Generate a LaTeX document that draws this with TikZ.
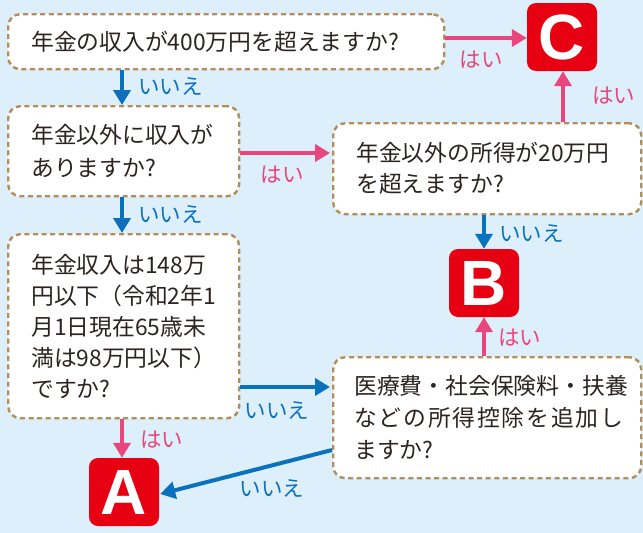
\documentclass[tikz,border=0pt]{standalone}
\usepackage{fontspec}
\setmainfont{Noto Sans CJK JP}
\newfontfamily\letterfont{Liberation Sans}[BoldFont={Liberation Sans Bold}]
\usetikzlibrary{arrows.meta,calc}
\definecolor{bgblue}{HTML}{DDEFFA}
\definecolor{boxbrown}{HTML}{B38E5A}
\definecolor{redbox}{HTML}{E60012}
\definecolor{pinkc}{HTML}{E8467C}
\definecolor{bluec}{HTML}{0A72BD}
\definecolor{textc}{HTML}{2B2421}
\tikzset{
  qbox/.style={draw=boxbrown, line width=2.4pt, dash pattern=on 5pt off 3.6pt,
    rounded corners=12pt, fill=white, inner ysep=0pt, inner xsep=23pt,
    anchor=north west, align=left, text=textc},
  qfont/.style={font=\fontsize{22.8}{#1}\selectfont},
  letterbox/.style={fill=redbox, rounded corners=9pt, minimum width=70pt,
    minimum height=68pt, inner sep=0pt, text=white,
    font=\letterfont\bfseries\fontsize{64}{64}\selectfont},
  yesarrow/.style={draw=pinkc, line width=4pt, -{Triangle[width=17pt,length=15pt]}},
  noarrow/.style={draw=bluec, line width=4pt, -{Triangle[width=17pt,length=15pt]}},
  yeslabel/.style={text=pinkc, font=\fontsize{21.5}{21.5}\selectfont, inner sep=0pt},
  nolabel/.style={text=bluec, font=\fontsize{21.5}{21.5}\selectfont, inner sep=0pt},
}
\begin{document}
\begin{tikzpicture}[x=1pt,y=-1pt]
\useasboundingbox[fill=bgblue] (0,0) rectangle (643,533);

% question boxes
\node[qbox, qfont=33, minimum width=436pt, minimum height=55pt, text width=390pt]
  (q1) at (7,13) {年金の収入が400万円を超えますか?};
\node[qbox, qfont=33, minimum width=231pt, minimum height=90pt, text width=185pt]
  (q2) at (7,105) {年金以外に収入が\\ありますか?};
\node[qbox, qfont=31, minimum width=308pt, minimum height=91pt, text width=262pt, inner xsep=21pt]
  (q3) at (332,122) {年金以外の所得が20万円\\を超えますか?};
\node[qbox, qfont=31, minimum width=231pt, minimum height=184pt, text width=185pt]
  (q5) at (7,233) {年金収入は148万\\円以下（令和2年1\\月1日現在65歳未\\満は98万円以下）\\ですか?};
\node[qbox, qfont=32, minimum width=308pt, minimum height=121pt, text width=266pt, inner xsep=21pt]
  (q4) at (332,356) {医療費・社会保険料・扶養\\{\addfontfeature{LetterSpace=8}などの所得控除を追加し}\\ますか?};

% result boxes
\node[letterbox] (C) at (562,37) {C};
\node[letterbox] (B) at (484,283) {B};
\node[letterbox] (A) at (124,492) {A};

% helper coordinates
\coordinate (xL) at (122,0);
\coordinate (xB) at (484,0);
\coordinate (xC) at (563,0);
\coordinate (y1) at (0,38);
\coordinate (y2) at (0,153);
\coordinate (y5) at (0,387);
\coordinate (y4) at (0,450);

% arrows
\draw[noarrow] (q1.south -| xL) -- (q2.north -| xL);
\node[nolabel, anchor=west] (l1) at (138,86) {いいえ};

\draw[noarrow] (q2.south -| xL) -- (q5.north -| xL);
\node[nolabel, anchor=west] (l2) at (138,214) {いいえ};

\draw[yesarrow] (q1.east |- y1) -- (C.west |- y1);
\node[yeslabel] (l3) at (481,60) {はい};

\draw[yesarrow] (q3.north -| xC) -- (C.south -| xC);
\node[yeslabel, anchor=west] (l4) at (592,96) {はい};

\draw[yesarrow] (q2.east |- y2) -- ([xshift=-2pt]q3.west |- y2);
\node[yeslabel] (l5) at (282,175) {はい};

\draw[noarrow] (q3.south -| xB) -- (B.north -| xB);
\node[nolabel, anchor=west] (l6) at (499,233) {いいえ};

\draw[yesarrow] (q4.north -| xB) -- (B.south -| xB);
\node[yeslabel, anchor=west] (l7) at (498,338) {はい};

\draw[noarrow] (q5.east |- y5) -- ([xshift=-2pt]q4.west |- y5);
\node[nolabel] (l8) at (277,410) {いいえ};

\draw[yesarrow] (q5.south -| xL) -- (A.north -| xL);
\node[yeslabel, anchor=west] (l9) at (140,440) {はい};

\draw[noarrow] (q4.west |- y4) -- ([xshift=1pt,yshift=-2pt]A.east);
\node[nolabel] (l10) at (272,488) {いいえ};
\end{tikzpicture}
\end{document}
